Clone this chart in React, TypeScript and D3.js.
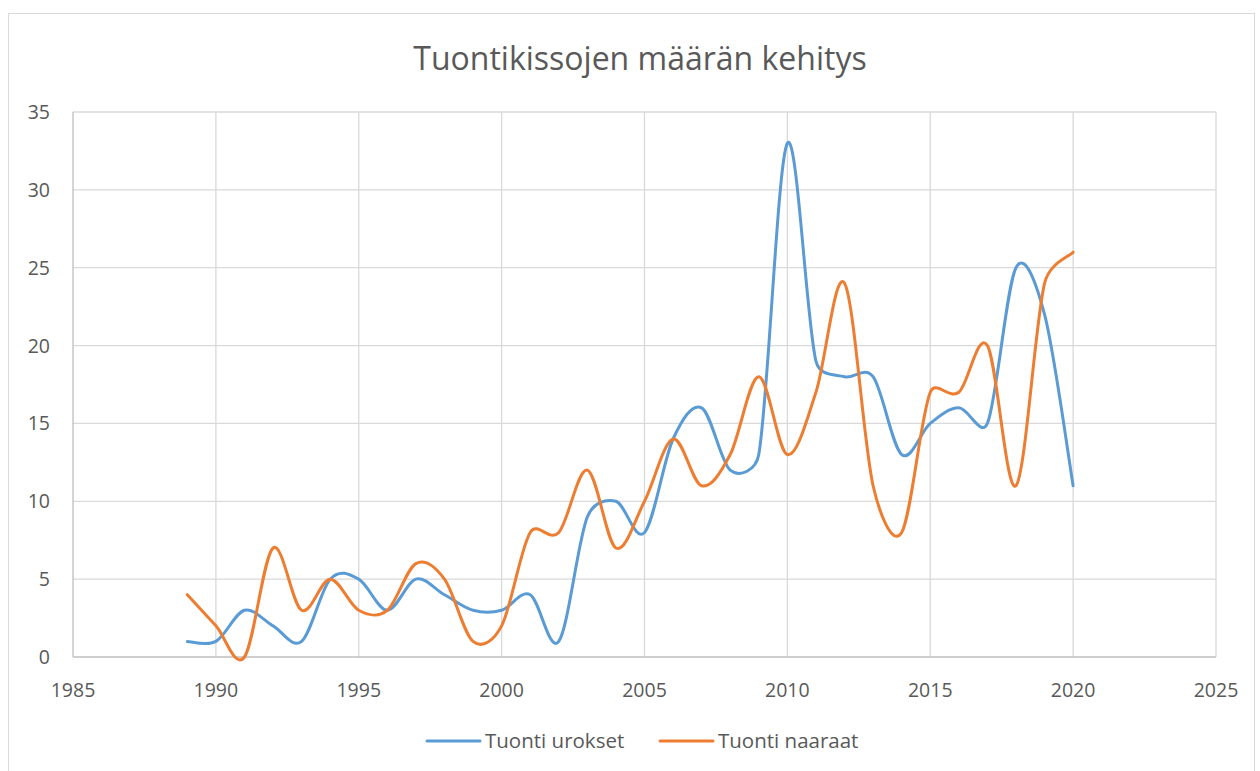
import React from 'react';
import * as d3 from 'd3';

// vuodet ja tuontimäärät
const years = d3.range(1989, 2021);
const urokset = [1, 1, 3, 2, 1, 5, 5, 3, 5, 4, 3, 3, 4, 1, 9, 10, 8, 14, 16, 12, 13, 33, 19, 18, 18, 13, 15, 16, 15, 25, 22, 11];
const naaraat = [4, 2, 0, 7, 3, 5, 3, 3, 6, 5, 1, 2, 8, 8, 12, 7, 10, 14, 11, 13, 18, 13, 17, 24, 11, 8, 17, 17, 20, 11, 24, 26];
const xTicks = [1985, 1990, 1995, 2000, 2005, 2010, 2015, 2020, 2025];
const yTicks = [0, 5, 10, 15, 20, 25, 30, 35];
const seriesNames = ['Tuonti urokset', 'Tuonti naaraat'];
const colors = ['#5b9bd5', '#ed7d31'];

const W = 1260;
const H = 771;
const font = 'Open Sans, sans-serif';

// Excelin tapainen pehmennetty viiva: Catmull-Rom, ohjauspisteiden pituus rajoitettu
const smoothPath = (pts: [number, number][]) => {
    const p = d3.path();
    const n = pts.length;
    const tan = pts.map((_, i) => {
        const a = pts[Math.max(0, i - 1)];
        const b = pts[Math.min(n - 1, i + 1)];
        return [(b[0] - a[0]) / 6, (b[1] - a[1]) / 6];
    });
    const clamp = (t: number[], len: number) => {
        const l = Math.hypot(t[0], t[1]);
        const max = len * 0.5;
        return l > max && l > 0 ? [(t[0] * max) / l, (t[1] * max) / l] : t;
    };
    p.moveTo(pts[0][0], pts[0][1]);
    for (let i = 0; i < n - 1; i++) {
        const a = pts[i];
        const b = pts[i + 1];
        const seg = Math.hypot(b[0] - a[0], b[1] - a[1]);
        const t1 = clamp(tan[i], seg);
        const t2 = clamp(tan[i + 1], seg);
        p.bezierCurveTo(a[0] + t1[0], a[1] + t1[1], b[0] - t2[0], b[1] - t2[1], b[0], b[1]);
    }
    return p.toString();
};

const App = () => {
    // asteikot
    const x = d3.scaleLinear().domain([1985, 2025]).range([73, 1216]);
    const y = d3.scaleLinear().domain([0, 35]).range([657, 112]);

    const series = [urokset, naaraat];
    const legendX = [427, 660];

    return (
        <svg width={W} height={H} style={{ position: 'absolute', left: 0, top: 0, background: '#fff' }}>
            <rect x={8.5} y={13.5} width={1246} height={780} fill="#fff" stroke="#d9d9d9" />
            <text x={640} y={70} textAnchor="middle" fontFamily={font} fontSize={32} fill="#595959">
                Tuontikissojen määrän kehitys
            </text>

            {/* ruudukko */}
            {yTicks.slice(1).map(t => (
                <line key={'h' + t} x1={73} x2={1216} y1={y(t)} y2={y(t)} stroke="#d9d9d9" strokeWidth={1.3} />
            ))}
            {xTicks.slice(1).map(t => (
                <line key={'v' + t} x1={x(t)} x2={x(t)} y1={112} y2={657} stroke="#d9d9d9" strokeWidth={1.3} />
            ))}
            <line x1={73} x2={73} y1={112} y2={657} stroke="#bfbfbf" strokeWidth={1.3} />
            <line x1={73} x2={1216} y1={657} y2={657} stroke="#bfbfbf" strokeWidth={1.3} />

            {/* akselien tekstit */}
            {yTicks.map(t => (
                <text key={'yl' + t} x={50} y={y(t) + 7} textAnchor="end" fontFamily={font} fontSize={19.5} fill="#595959">
                    {t}
                </text>
            ))}
            {xTicks.map(t => (
                <text key={'xl' + t} x={x(t)} y={697} textAnchor="middle" fontFamily={font} fontSize={19.5} fill="#595959">
                    {t}
                </text>
            ))}

            {/* viivat */}
            {series.map((s, i) => (
                <path
                    key={'s' + i}
                    d={smoothPath(s.map((v, j) => [x(years[j]), y(v)] as [number, number]))}
                    fill="none"
                    stroke={colors[i]}
                    strokeWidth={3}
                    strokeLinecap="round"
                    strokeLinejoin="round"
                />
            ))}

            {/* selite */}
            {seriesNames.map((n, i) => (
                <g key={'lg' + i}>
                    <line x1={legendX[i]} x2={legendX[i] + 53} y1={741} y2={741} stroke={colors[i]} strokeWidth={3} strokeLinecap="round" />
                    <text x={legendX[i] + 58} y={748} fontFamily={font} fontSize={20.5} fill="#595959">
                        {n}
                    </text>
                </g>
            ))}
        </svg>
    );
};

export default App;
